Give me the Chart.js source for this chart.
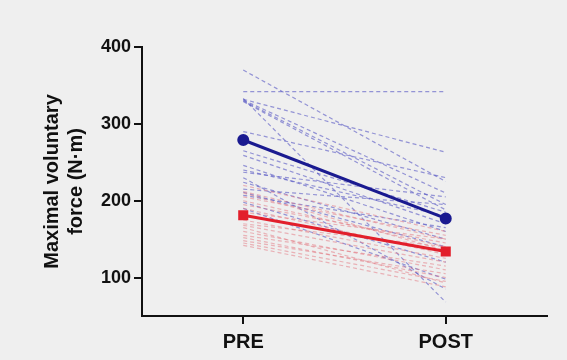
<!DOCTYPE html>
<html>
<head>
<meta charset="utf-8">
<script src="https://cdn.jsdelivr.net/npm/chart.js@4/dist/chart.umd.min.js"></script>
<style>
  html, body { margin: 0; padding: 0; background: #efefef; }
  #wrap { width: 567px; height: 360px; }
</style>
</head>
<body>
<div id="wrap"><canvas id="c" width="567" height="360"></canvas></div>
<script>
const categories = ['PRE', 'POST'];
const yTicks = [100, 200, 300, 400];

// Group 1 (blue) individual subjects
const bluePre  = [370, 342, 332, 331, 330, 329, 333, 290, 265, 259, 246, 237, 224, 211, 207, 198, 190, 240, 230, 215];
const bluePost = [225, 342, 263, 210, 195, 188,  68, 230, 185, 170, 160, 205, 150, 140, 165, 120,  98, 180,  85, 195];
// Group 2 (red) individual subjects
const redPre  = [220, 212, 205, 200, 195, 190, 185, 175, 168, 160, 155, 152, 148, 145, 142, 210, 170, 165];
const redPost = [160, 150, 155, 140, 145, 130, 150, 125, 120, 110, 115, 100, 105,  95,  88, 135, 140,  93];
// Group means
const blueMean = [279, 177];
const redMean  = [181, 134];

const datasets = [];
datasets.push({
  data: [{x: 0, y: blueMean[0]}, {x: 1, y: blueMean[1]}],
  borderColor: '#1a1a90', backgroundColor: '#1a1a90',
  borderWidth: 3, pointRadius: 4.5, pointStyle: 'circle', order: 0
});
datasets.push({
  data: [{x: 0, y: redMean[0]}, {x: 1, y: redMean[1]}],
  borderColor: '#e21f2b', backgroundColor: '#e21f2b',
  borderWidth: 3, pointRadius: 5, pointStyle: 'rect', order: 0
});
bluePre.forEach((v, i) => datasets.push({
  data: [{x: 0, y: v}, {x: 1, y: bluePost[i]}],
  borderColor: 'rgba(85,85,195,0.6)', borderWidth: 1.2, borderDash: [4, 3],
  pointRadius: 0, order: 2
}));
redPre.forEach((v, i) => datasets.push({
  data: [{x: 0, y: v}, {x: 1, y: redPost[i]}],
  borderColor: 'rgba(228,115,125,0.5)', borderWidth: 1.2, borderDash: [4, 3],
  pointRadius: 0, order: 1
}));

const FONT = '"Liberation Sans", Arial, Helvetica, sans-serif';

new Chart(document.getElementById('c'), {
  type: 'line',
  data: { datasets },
  options: {
    responsive: false,
    animation: false,
    devicePixelRatio: 1,
    layout: { padding: { left: 0, top: 47, right: 20, bottom: 0 } },
    plugins: { legend: { display: false }, tooltip: { enabled: false } },
    elements: { line: { tension: 0 } },
    scales: {
      x: {
        type: 'linear', min: -0.5, max: 1.5,
        afterBuildTicks: s => { s.ticks = [{value: 0}, {value: 1}]; },
        afterFit: s => { s.height = 44; },
        border: { display: true, color: '#111', width: 2 },
        grid: { display: true, drawOnChartArea: false, drawTicks: true, tickLength: 8, color: '#111', lineWidth: 2 },
        ticks: {
          color: '#111', padding: 6, maxRotation: 0,
          font: { family: FONT, size: 20, weight: 'bold' },
          callback: v => categories[v] ?? ''
        }
      },
      y: {
        type: 'linear', min: 50, max: 400,
        afterBuildTicks: s => { s.ticks = yTicks.map(v => ({value: v})); },
        afterFit: s => { s.width = 142; },
        border: { display: true, color: '#111', width: 2 },
        grid: { display: true, drawOnChartArea: false, drawTicks: true, tickLength: 8, color: '#111', lineWidth: 2 },
        ticks: {
          color: '#111', padding: 3,
          font: { family: FONT, size: 18, weight: 'bold' }
        },
        title: {
          display: true, text: ['Maximal voluntary', 'force (N·m)'], color: '#111',
          font: { family: FONT, size: 20, weight: 'bold', lineHeight: 1.2 },
          padding: { top: 40, bottom: 0 }
        }
      }
    }
  }
});
</script>
</body>
</html>
